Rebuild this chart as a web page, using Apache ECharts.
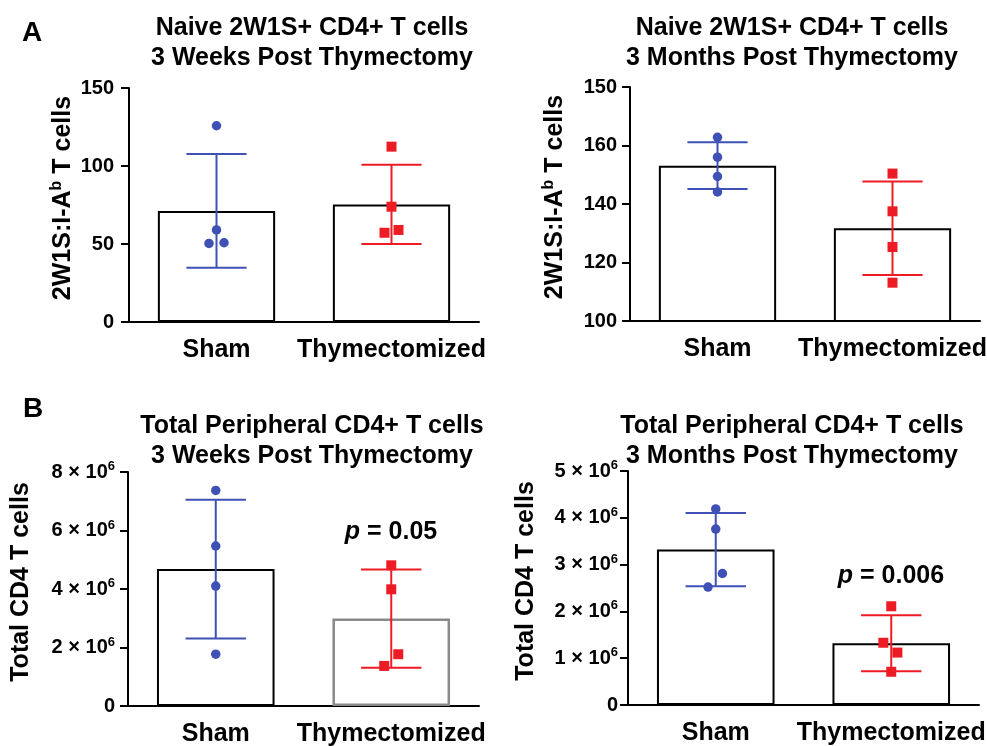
<!DOCTYPE html>
<html><head><meta charset="utf-8">
<script src="https://cdn.jsdelivr.net/npm/echarts@6/dist/echarts.min.js"></script>
<style>html,body{margin:0;padding:0;background:#fff}#c{width:987px;height:746px}</style>
</head><body><div id="c"></div>
<script>
const categories = ['Sham', 'Thymectomized'];

// Panel A left: Naive 2W1S+ CD4+ T cells, 3 weeks
const a1ShamPoints = [125.8, 59.0, 50.4, 50.8];
const a1ThymPoints = [112.4, 73.9, 57.2, 59.0];
const a1ShamJitter = [0, 0, -0.043, 0.043];
const a1ThymJitter = [0, 0, -0.04, 0.04];
const a1Means = [71.2, 75.4];
const a1SD = [36.5, 25.4];
const a1TickLabels = ['0', '50', '100', '150'];

// Panel A right: Naive 2W1S+ CD4+ T cells, 3 months
const a2ShamPoints = [162.8, 156.0, 149.4, 144.1];
const a2ThymPoints = [150.4, 137.5, 125.3, 113.1];
const a2ShamJitter = [0, 0, 0, 0];
const a2ThymJitter = [0, 0, 0, 0];
const a2Means = [153.1, 131.7];
const a2SD = [8.0, 16.0];
const a2TickLabels = ['100', '120', '140', '160', '150'];

// Panel B left: Total peripheral CD4+ T cells, 3 weeks
const b1ShamPoints = [7.37e6, 5.47e6, 4.10e6, 1.77e6];
const b1ThymPoints = [4.81e6, 3.99e6, 1.77e6, 1.37e6];
const b1ShamJitter = [0, 0, 0, 0];
const b1ThymJitter = [0, 0, 0.04, -0.04];
const b1Means = [4.68e6, 2.99e6];
const b1SD = [2.37e6, 1.68e6];
const b1TickMantissas = ['0', '2', '4', '6', '8'];
const b1PText = '0.05';

// Panel B right: Total peripheral CD4+ T cells, 3 months
const b2ShamPoints = [4.19e6, 3.76e6, 2.81e6, 2.52e6];
const b2ThymPoints = [2.11e6, 1.33e6, 1.12e6, 0.71e6];
const b2ShamJitter = [0, 0, 0.038, -0.044];
const b2ThymJitter = [0, -0.045, 0.035, 0];
const b2Means = [3.32e6, 1.32e6];
const b2SD = [0.78e6, 0.60e6];
const b2TickMantissas = ['0', '1', '2', '3', '4', '5'];
const b2PText = '0.006';

const FONT = '"Liberation Sans", Arial, Helvetica, sans-serif';
const BLUE = '#3F51B5';
const RED = '#ED1C24';
const groupColors = [BLUE, RED];

function pointRenderer(shape, color, size) {
  return function (params, api) {
    const c = api.coord([api.value(0), api.value(1)]);
    const band = api.size([1, 0])[0];
    const x = c[0] + api.value(2) * band;
    if (shape === 'circle') {
      return { type: 'circle', shape: { cx: x, cy: c[1], r: size / 2 }, style: { fill: color } };
    }
    return { type: 'rect', shape: { x: x - size / 2, y: c[1] - size / 2, width: size, height: size }, style: { fill: color } };
  };
}

function errRenderer(params, api) {
  const cat = api.value(0), m = api.value(1), s = api.value(2);
  const top = api.coord([cat, m + s]);
  const bot = api.coord([cat, m - s]);
  const band = api.size([1, 0])[0];
  const hw = band * 0.172;
  const st = { stroke: groupColors[cat], lineWidth: 2 };
  return {
    type: 'group', children: [
      { type: 'line', shape: { x1: top[0], y1: top[1], x2: bot[0], y2: bot[1] }, style: st },
      { type: 'line', shape: { x1: top[0] - hw, y1: top[1], x2: top[0] + hw, y2: top[1] }, style: st },
      { type: 'line', shape: { x1: bot[0] - hw, y1: bot[1], x2: bot[0] + hw, y2: bot[1] }, style: st }
    ]
  };
}

const grids = [], xAxes = [], yAxes = [], series = [];

function addPanel(opt) {
  const i = grids.length;
  grids.push(Object.assign({ outerBoundsMode: 'none', containLabel: false }, opt.grid));
  xAxes.push({
    type: 'category', gridIndex: i, data: categories,
    axisLine: { lineStyle: { color: '#000', width: 2 } },
    axisTick: { alignWithLabel: true, length: 8, lineStyle: { color: '#000', width: 2 } },
    axisLabel: { color: '#000', fontFamily: FONT, fontWeight: 'bold', fontSize: 25, margin: 16, interval: 0 },
    splitLine: { show: false }
  });
  yAxes.push({
    type: 'value', gridIndex: i, min: opt.min, max: opt.max, interval: opt.interval,
    name: opt.name, nameLocation: 'middle', nameRotate: 90, nameGap: opt.nameGap,
    nameTextStyle: Object.assign({ color: '#000', fontFamily: FONT, fontWeight: 'bold', fontSize: 25, padding: [0, 0, 0, 14] }, opt.nameRich ? { rich: opt.nameRich } : {}),
    axisLine: { show: true, lineStyle: { color: '#000', width: 2 } },
    axisTick: { show: true, length: 8, lineStyle: { color: '#000', width: 2 } },
    axisLabel: Object.assign({ color: '#000', fontFamily: FONT, fontWeight: 'bold', fontSize: 20, margin: opt.labelMargin, formatter: opt.formatter }, opt.labelRich ? { rich: opt.labelRich } : {}),
    splitLine: { show: false }
  });
  series.push({
    type: 'bar', xAxisIndex: i, yAxisIndex: i, barWidth: '67%', z: 2,
    data: opt.means.map((m, k) => ({ value: m, itemStyle: opt.barStyles[k] })),
    itemStyle: { color: '#fff', borderColor: '#000', borderWidth: 2 },
    emphasis: { disabled: true }, silent: true
  });
  series.push({
    type: 'custom', xAxisIndex: i, yAxisIndex: i, z: 3, renderItem: errRenderer,
    encode: { x: 0, y: 1 },
    data: opt.means.map((m, k) => [k, m, opt.sd[k]]), silent: true
  });
  series.push({
    type: 'custom', xAxisIndex: i, yAxisIndex: i, z: 4, renderItem: pointRenderer('circle', BLUE, 9.5),
    encode: { x: 0, y: 1 },
    data: opt.shamPts.map((v, k) => [0, v, opt.shamJit[k]]), silent: true
  });
  series.push({
    type: 'custom', xAxisIndex: i, yAxisIndex: i, z: 4, renderItem: pointRenderer('rect', RED, 10),
    encode: { x: 0, y: 1 },
    data: opt.thymPts.map((v, k) => [1, v, opt.thymJit[k]]), silent: true
  });
}

const normalBar = { color: '#fff', borderColor: '#000', borderWidth: 2 };
const greyBar = { color: '#fff', borderColor: '#8a8a8a', borderWidth: 2.5 };
const supRich = { sup: { fontFamily: FONT, fontWeight: 'bold', fontSize: 16, lineHeight: 16, verticalAlign: 'top', color: '#000' }, m: { fontFamily: FONT, fontWeight: 'bold', fontSize: 25, lineHeight: 29, color: '#000' } };
const sciRich = { m: { fontFamily: FONT, fontWeight: 'bold', fontSize: 20, lineHeight: 24, color: '#000' }, s: { fontFamily: FONT, fontWeight: 'bold', fontSize: 13, lineHeight: 13, verticalAlign: 'top', color: '#000' } };

function sciFormatter(mantissas) {
  return function (v, idx) {
    const mt = mantissas[idx];
    return mt === '0' ? '{m|0}' : '{m|' + mt + ' × 10}{s|6}';
  };
}

addPanel({
  grid: { left: 129, top: 88, width: 350, height: 234 },
  min: 0, max: 150, interval: 50, labelMargin: 15,
  formatter: (v, idx) => a1TickLabels[idx],
  name: '{m|2W1S:I-A}{sup|b}{m| T cells}', nameRich: supRich, nameGap: 51,
  means: a1Means, sd: a1SD, shamPts: a1ShamPoints, thymPts: a1ThymPoints,
  shamJit: a1ShamJitter, thymJit: a1ThymJitter, barStyles: [normalBar, normalBar]
});
addPanel({
  grid: { left: 630, top: 87, width: 350, height: 234 },
  min: 100, max: 180, interval: 20, labelMargin: 13,
  formatter: (v, idx) => a2TickLabels[idx],
  name: '{m|2W1S:I-A}{sup|b}{m| T cells}', nameRich: supRich, nameGap: 60,
  means: a2Means, sd: a2SD, shamPts: a2ShamPoints, thymPts: a2ThymPoints,
  shamJit: a2ShamJitter, thymJit: a2ThymJitter, barStyles: [normalBar, normalBar]
});
addPanel({
  grid: { left: 128, top: 472, width: 351, height: 234 },
  min: 0, max: 8e6, interval: 2e6, labelMargin: 13,
  formatter: sciFormatter(b1TickMantissas), labelRich: sciRich,
  name: 'Total CD4 T cells', nameGap: 94,
  means: b1Means, sd: b1SD, shamPts: b1ShamPoints, thymPts: b1ThymPoints,
  shamJit: b1ShamJitter, thymJit: b1ThymJitter, barStyles: [normalBar, greyBar]
});
addPanel({
  grid: { left: 628, top: 471, width: 351, height: 234 },
  min: 0, max: 5e6, interval: 1e6, labelMargin: 10,
  formatter: sciFormatter(b2TickMantissas), labelRich: sciRich,
  name: 'Total CD4 T cells', nameGap: 89,
  means: b2Means, sd: b2SD, shamPts: b2ShamPoints, thymPts: b2ThymPoints,
  shamJit: b2ShamJitter, thymJit: b2ThymJitter, barStyles: [normalBar, normalBar]
});

const titleStyle = { color: '#000', fontFamily: FONT, fontWeight: 'bold', fontSize: 25, lineHeight: 30 };
const pRich = { i: { fontStyle: 'italic', fontFamily: FONT, fontWeight: 'bold', fontSize: 25, color: '#000' }, n: { fontFamily: FONT, fontWeight: 'bold', fontSize: 25, color: '#000' } };

const titles = [
  { text: 'A', left: 22, top: 19, textStyle: { color: '#000', fontFamily: FONT, fontWeight: 'bold', fontSize: 28, lineHeight: 28 }, padding: 0 },
  { text: 'B', left: 23, top: 395, textStyle: { color: '#000', fontFamily: FONT, fontWeight: 'bold', fontSize: 28, lineHeight: 28 }, padding: 0 },
  { text: 'Naive 2W1S+ CD4+ T cells\n3 Weeks Post Thymectomy', left: 312, top: 13, textAlign: 'center', textStyle: titleStyle, padding: 0 },
  { text: 'Naive 2W1S+ CD4+ T cells\n3 Months Post Thymectomy', left: 792, top: 13, textAlign: 'center', textStyle: titleStyle, padding: 0 },
  { text: 'Total Peripheral CD4+ T cells\n3 Weeks Post Thymectomy', left: 312, top: 411, textAlign: 'center', textStyle: titleStyle, padding: 0 },
  { text: 'Total Peripheral CD4+ T cells\n3 Months Post Thymectomy', left: 792, top: 411, textAlign: 'center', textStyle: titleStyle, padding: 0 },
  { text: '{i|p}{n| = ' + b1PText + '}', left: 391, top: 518, textAlign: 'center', textStyle: { rich: pRich, lineHeight: 28 }, padding: 0 },
  { text: '{i|p}{n| = ' + b2PText + '}', left: 891, top: 562, textAlign: 'center', textStyle: { rich: pRich, lineHeight: 28 }, padding: 0 }
];

const chart = echarts.init(document.getElementById('c'), null, { renderer: 'canvas' });
chart.setOption({
  backgroundColor: '#fff',
  animation: false,
  title: titles,
  grid: grids,
  xAxis: xAxes,
  yAxis: yAxes,
  series: series
});
</script>
</body></html>
